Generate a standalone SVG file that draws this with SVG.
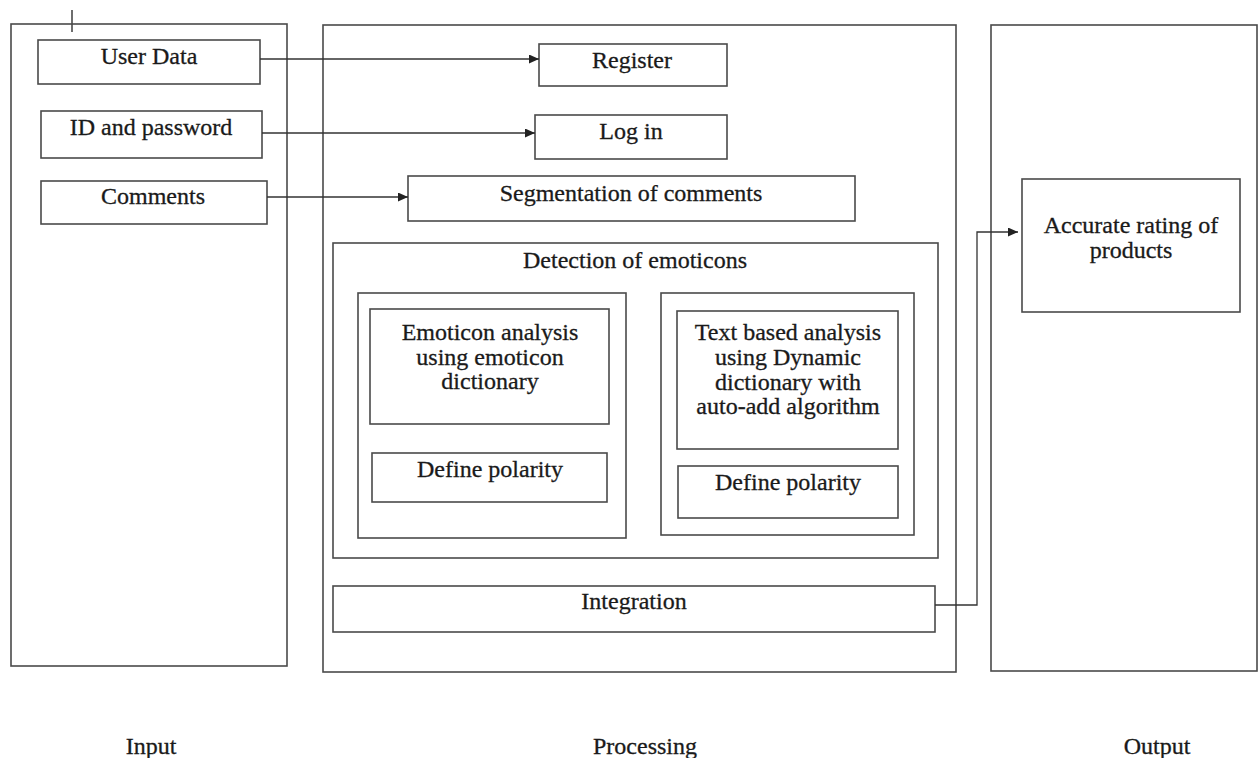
<svg xmlns="http://www.w3.org/2000/svg" width="1260" height="758" viewBox="0 0 1260 758">
<style>
.box{fill:none;stroke:#4a4a4a;stroke-width:1.6}
.t{font-family:"Liberation Serif","Times New Roman",serif;font-size:24px;fill:#1a1a1a;stroke:#1a1a1a;stroke-width:0.3;text-anchor:middle}
.c{fill:none;stroke:#333;stroke-width:1.3}
</style>
<defs>
<marker id="ah" markerWidth="11" markerHeight="9" refX="10" refY="4.5" orient="auto" markerUnits="userSpaceOnUse">
<path d="M0,0 L10,4.5 L0,9 Z" fill="#222"/>
</marker>
</defs>
<rect width="1260" height="758" fill="#fff"/>

<g id="input-panel">
<rect class="box" x="11" y="24" width="276" height="642"/>
<line class="box" x1="72" y1="10" x2="72" y2="32"/>
<text class="t" x="151" y="754">Input</text>
</g>
<g id="processing-panel">
<rect class="box" x="323" y="25" width="633" height="647"/>
<text class="t" x="645" y="754">Processing</text>
</g>
<g id="output-panel">
<rect class="box" x="991" y="25" width="266" height="646"/>
<text class="t" x="1157" y="754">Output</text>
</g>

<g id="user-data"><rect class="box" x="38" y="40" width="222" height="44"/><text class="t" x="149" y="64">User Data</text></g>
<g id="id-password"><rect class="box" x="41" y="111" width="221" height="47"/><text class="t" x="151" y="135">ID and password</text></g>
<g id="comments"><rect class="box" x="41" y="181" width="226" height="43"/><text class="t" x="153" y="204">Comments</text></g>

<g id="register"><rect class="box" x="539" y="44" width="188" height="42"/><text class="t" x="632" y="68">Register</text></g>
<g id="login"><rect class="box" x="535" y="115" width="192" height="44"/><text class="t" x="631" y="139">Log in</text></g>
<g id="segmentation"><rect class="box" x="408" y="176" width="447" height="45"/><text class="t" x="631" y="201">Segmentation of comments</text></g>

<g id="detection"><rect class="box" x="333" y="243" width="605" height="315"/><text class="t" x="635" y="268">Detection of emoticons</text></g>
<g id="emoticon-group"><rect class="box" x="358" y="293" width="268" height="245"/></g>
<g id="emoticon-analysis"><rect class="box" x="370" y="309" width="239" height="115"/>
<text class="t" x="490" y="340">Emoticon analysis</text>
<text class="t" x="490" y="365">using emoticon</text>
<text class="t" x="490" y="389">dictionary</text></g>
<g id="define-polarity-1"><rect class="box" x="372" y="453" width="235" height="49"/><text class="t" x="490" y="477">Define polarity</text></g>
<g id="text-group"><rect class="box" x="661" y="293" width="253" height="242"/></g>
<g id="text-analysis"><rect class="box" x="677" y="311" width="221" height="138"/>
<text class="t" x="788" y="340">Text based analysis</text>
<text class="t" x="788" y="365">using Dynamic</text>
<text class="t" x="788" y="390">dictionary with</text>
<text class="t" x="788" y="414">auto-add algorithm</text></g>
<g id="define-polarity-2"><rect class="box" x="678" y="466" width="220" height="52"/><text class="t" x="788" y="490">Define polarity</text></g>
<g id="integration"><rect class="box" x="333" y="586" width="602" height="46"/><text class="t" x="634" y="609">Integration</text></g>

<g id="accurate-rating"><rect class="box" x="1022" y="179" width="218" height="133"/>
<text class="t" x="1131" y="233">Accurate rating of</text>
<text class="t" x="1131" y="258">products</text></g>

<g id="connectors">
<line class="c" x1="260" y1="59" x2="539" y2="59" marker-end="url(#ah)"/>
<line class="c" x1="262" y1="133" x2="535" y2="133" marker-end="url(#ah)"/>
<line class="c" x1="267" y1="197" x2="408" y2="197" marker-end="url(#ah)"/>
<polyline class="c" points="935,605 977,605 977,232 1018,232" marker-end="url(#ah)"/>
</g>
</svg>
